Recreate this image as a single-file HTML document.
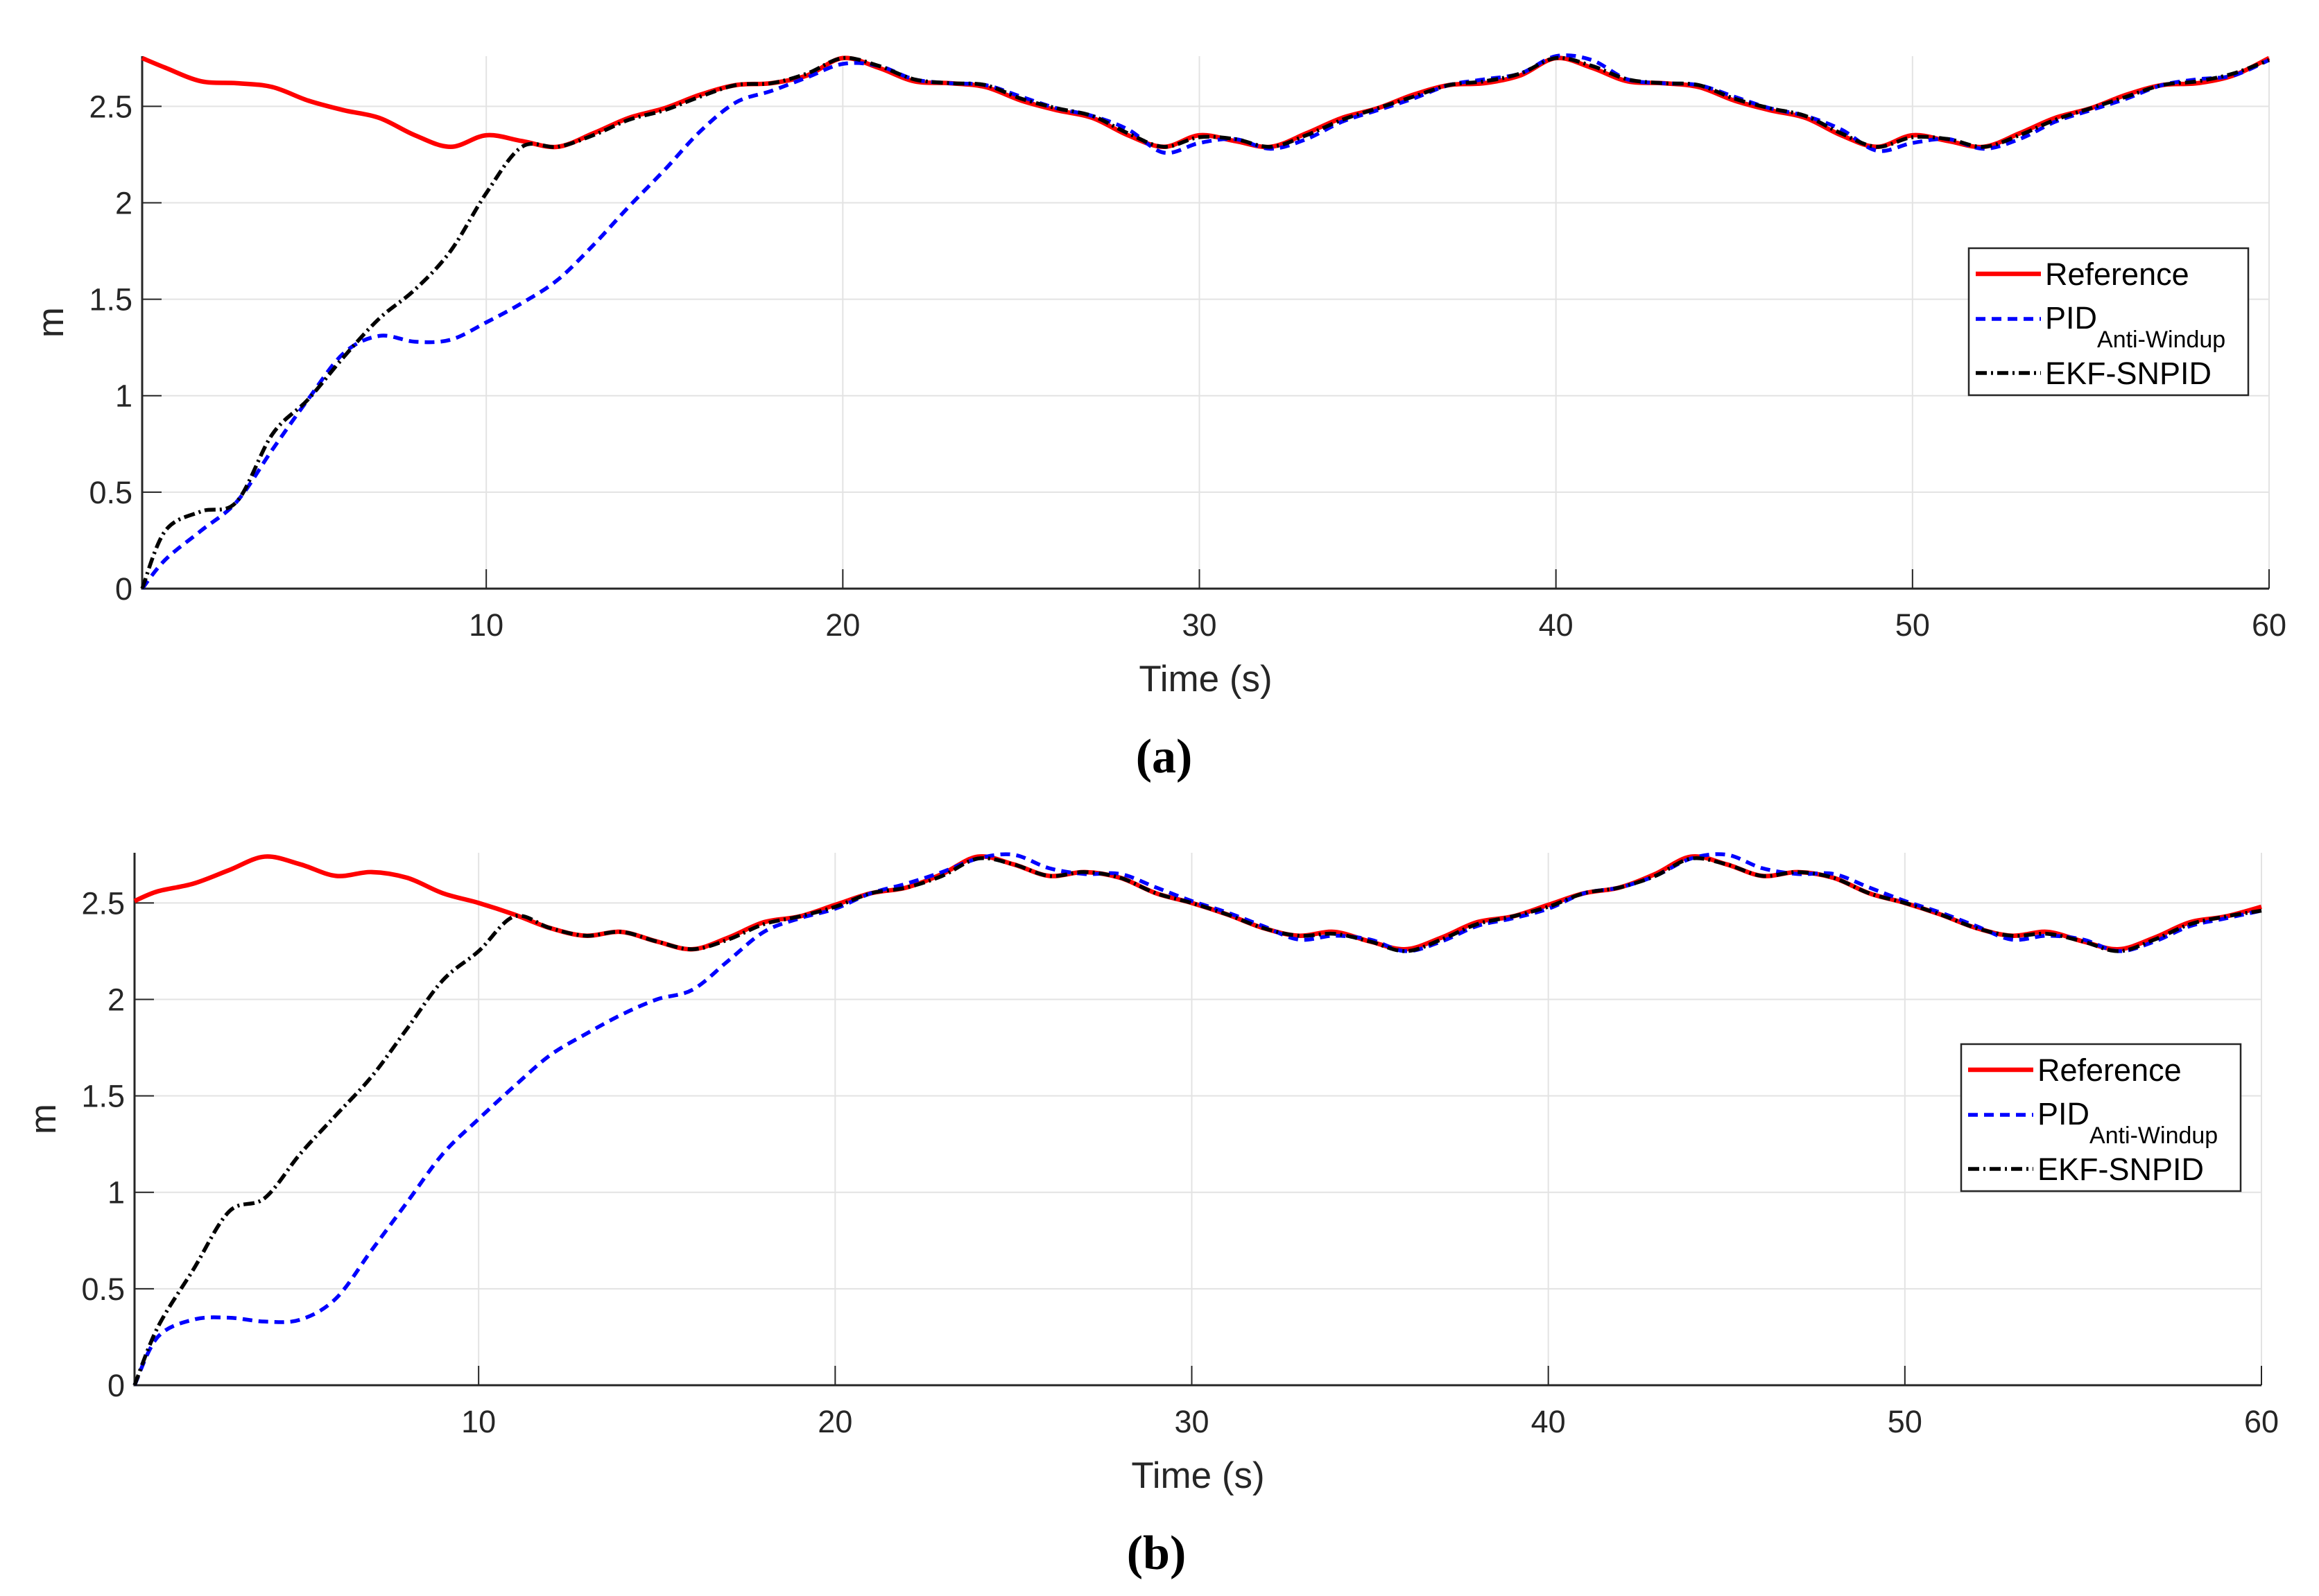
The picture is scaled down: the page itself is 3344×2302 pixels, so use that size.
<!DOCTYPE html>
<html><head><meta charset="utf-8"><style>
html,body{margin:0;padding:0;background:#fff;}
svg{display:block;font-family:"Liberation Sans",sans-serif;}
</style></head><body>
<svg id="fig" width="3344" height="2302" viewBox="0 0 3344 2302"></svg>
<script>
const timeA = [0.35,1,2,3,4,5,6,7,8,9,10,11,12,13,14,15,16,17,18,19,20,21,22,23,24,25,26,27,28,29,30,31,32,33,34,35,36,37,38,39,40,41,42,43,44,45,46,47,48,49,50,51,52,53,54,55,56,57,58,59,60];
const refA = [2.75,2.70,2.63,2.62,2.60,2.53,2.48,2.44,2.35,2.29,2.35,2.32,2.29,2.36,2.44,2.49,2.56,2.61,2.62,2.66,2.75,2.70,2.63,2.62,2.60,2.53,2.48,2.44,2.35,2.29,2.35,2.32,2.29,2.36,2.44,2.49,2.56,2.61,2.62,2.66,2.75,2.70,2.63,2.62,2.60,2.53,2.48,2.44,2.35,2.29,2.35,2.32,2.29,2.36,2.44,2.49,2.56,2.61,2.62,2.66,2.75];
const pidA = [0,0.15,0.30,0.45,0.72,0.98,1.22,1.31,1.28,1.29,1.38,1.48,1.60,1.78,1.98,2.17,2.37,2.52,2.58,2.65,2.72,2.71,2.64,2.62,2.61,2.55,2.49,2.45,2.38,2.26,2.31,2.33,2.28,2.33,2.42,2.48,2.54,2.61,2.64,2.67,2.76,2.74,2.64,2.62,2.61,2.55,2.49,2.45,2.38,2.27,2.31,2.33,2.28,2.33,2.42,2.48,2.54,2.61,2.64,2.66,2.74];
const ekfA = [0,0.30,0.40,0.45,0.80,0.98,1.20,1.40,1.55,1.75,2.05,2.29,2.29,2.35,2.43,2.48,2.55,2.61,2.62,2.67,2.75,2.71,2.64,2.62,2.61,2.54,2.49,2.45,2.36,2.29,2.34,2.33,2.29,2.35,2.43,2.49,2.55,2.61,2.63,2.67,2.75,2.71,2.64,2.62,2.61,2.54,2.49,2.45,2.36,2.29,2.34,2.33,2.29,2.35,2.43,2.49,2.55,2.61,2.63,2.67,2.74];
const timeB = timeA;
const refB = [2.51,2.56,2.60,2.67,2.74,2.70,2.64,2.66,2.63,2.55,2.50,2.44,2.37,2.33,2.35,2.30,2.26,2.32,2.40,2.43,2.49,2.55,2.58,2.65,2.74,2.70,2.64,2.66,2.63,2.55,2.50,2.44,2.37,2.33,2.35,2.30,2.26,2.32,2.40,2.43,2.49,2.55,2.58,2.65,2.74,2.70,2.64,2.66,2.63,2.55,2.50,2.44,2.37,2.33,2.35,2.30,2.26,2.32,2.40,2.43,2.48];
const pidB = [0,0.25,0.34,0.35,0.33,0.34,0.45,0.70,0.95,1.20,1.38,1.55,1.71,1.82,1.92,2.00,2.05,2.20,2.35,2.42,2.47,2.55,2.60,2.66,2.73,2.75,2.68,2.65,2.65,2.58,2.51,2.45,2.38,2.31,2.33,2.31,2.25,2.30,2.38,2.42,2.47,2.55,2.58,2.64,2.73,2.75,2.68,2.65,2.65,2.58,2.51,2.45,2.38,2.31,2.33,2.31,2.25,2.30,2.38,2.42,2.46];
const ekfB = [0,0.30,0.60,0.90,0.97,1.20,1.40,1.60,1.85,2.10,2.25,2.43,2.37,2.33,2.35,2.30,2.26,2.31,2.39,2.43,2.48,2.55,2.58,2.64,2.73,2.70,2.64,2.66,2.63,2.55,2.50,2.44,2.37,2.33,2.34,2.30,2.25,2.31,2.39,2.43,2.48,2.55,2.58,2.64,2.73,2.70,2.64,2.66,2.63,2.55,2.50,2.44,2.37,2.33,2.34,2.30,2.25,2.31,2.39,2.43,2.46];
const xTicks = [10,20,30,40,50,60];
const yTicks = [0,0.5,1,1.5,2,2.5];
const yTickLabels = ["0","0.5","1","1.5","2","2.5"];
const legendLabels = ["Reference","PID","EKF-SNPID"];

const NS="http://www.w3.org/2000/svg";
const svg=document.getElementById('fig');
function mk(tag,attrs,parent){const e=document.createElementNS(NS,tag);for(const k in attrs)e.setAttribute(k,attrs[k]);(parent||svg).appendChild(e);return e;}
function smooth(pts){let d=`M${pts[0][0]},${pts[0][1]}`;for(let i=0;i<pts.length-1;i++){const p0=pts[Math.max(i-1,0)],p1=pts[i],p2=pts[i+1],p3=pts[Math.min(i+2,pts.length-1)];const c1x=p1[0]+(p2[0]-p0[0])/6,c1y=p1[1]+(p2[1]-p0[1])/6,c2x=p2[0]-(p3[0]-p1[0])/6,c2y=p2[1]-(p3[1]-p1[1])/6;d+=` C${c1x},${c1y} ${c2x},${c2y} ${p2[0]},${p2[1]}`;}return d;}

function panel(cfg){
  const g=mk('g',{});
  
  
  const L=cfg.left,R=cfg.right,B=cfg.bottom,T=cfg.top;
  const yMax=2.76, xMin=0.35;
  const xs=v=>L+(v-xMin)/(60-xMin)*(R-L);
  const ys=v=>B-(v/yMax)*(B-T);
  xTicks.forEach(t=>{const gl=mk('line',{x1:xs(t),x2:xs(t),y1:T,y2:B,stroke:'#e3e3e3','stroke-width':2},g);
    const tk=mk('line',{x1:xs(t),x2:xs(t),y1:B,y2:B-28,stroke:'#262626','stroke-width':2},g);
    const tl=mk('text',{x:xs(t),y:B+68,'text-anchor':'middle','font-size':45,fill:'#262626'},g);tl.textContent=t;});
  yTicks.forEach((t,i)=>{if(t>0){const gl=mk('line',{x1:L,x2:R,y1:ys(t),y2:ys(t),stroke:'#e3e3e3','stroke-width':2},g);}
    const tk=mk('line',{x1:L,x2:L+28,y1:ys(t),y2:ys(t),stroke:'#262626','stroke-width':2},g);
    const tl=mk('text',{x:L-14,y:ys(t)+16,'text-anchor':'end','font-size':45,fill:'#262626'},g);tl.textContent=yTickLabels[i];});
  const ax=mk('path',{d:`M${L},${T} L${L},${B} L${R},${B}`,fill:'none',stroke:'#262626','stroke-width':3},g);
  const series=[[cfg.ref,'#ff0000',6.5,'none','reference-line'],[cfg.pid,'#0000ff',5.5,'14 9','pid-line'],[cfg.ekf,'#000000',5.5,'16 6 3 6','ekf-snpid-line']];
  series.forEach(s=>{const pts=cfg.time.map((t,i)=>[xs(t),ys(s[0][i])]);const p=mk('path',{d:smooth(pts),fill:'none',stroke:s[1],'stroke-width':s[2],'stroke-dasharray':s[3],'stroke-linejoin':'round'},g);});
  const xl=mk('text',{x:(L+R)/2,y:B+148,'text-anchor':'middle','font-size':53,fill:'#262626'},g);xl.textContent='Time (s)';
  const yl=mk('text',{x:0,y:0,'text-anchor':'middle','font-size':53,fill:'#262626',transform:`translate(${L-114},${(T+B)/2}) rotate(-90)`},g);yl.textContent='m';
  const cap=mk('text',{x:(L+R)/2-60,y:B+265,'text-anchor':'middle','font-size':70,'font-weight':'bold','font-family':'Liberation Serif,serif',fill:'#000'},g);cap.textContent=cfg.caption;
  const lx=cfg.lx,ly=cfg.ly;
  const lg=mk('g',{},g);
  mk('rect',{x:lx,y:ly,width:403,height:212,fill:'#fff',stroke:'#262626','stroke-width':2.5},lg);
  const rows=[[37,'#ff0000',6.5,'none',16],[102,'#0000ff',5.5,'14 9',14],[180,'#000000',5.5,'16 6 3 6',16]];
  rows.forEach((r,i)=>{mk('line',{x1:lx+10,x2:lx+104,y1:ly+r[0],y2:ly+r[0],stroke:r[1],'stroke-width':r[2],'stroke-dasharray':r[3]},lg);
    const t=mk('text',{x:lx+110,y:ly+r[0]+r[4],'font-size':45,fill:'#000'},lg);t.textContent=legendLabels[i];
    
    if(i==1){const sb=mk('tspan',{dy:27,'font-size':34},t);sb.textContent='Anti-Windup';}});
}
panel({name:'panel-a',left:205,right:3272,bottom:849,top:81,time:timeA,ref:refA,pid:pidA,ekf:ekfA,caption:'(a)',lx:2839,ly:358});
panel({name:'panel-b',left:194,right:3261,bottom:1998,top:1230,time:timeB,ref:refB,pid:pidB,ekf:ekfB,caption:'(b)',lx:2828,ly:1506});
</script>
</body></html>
